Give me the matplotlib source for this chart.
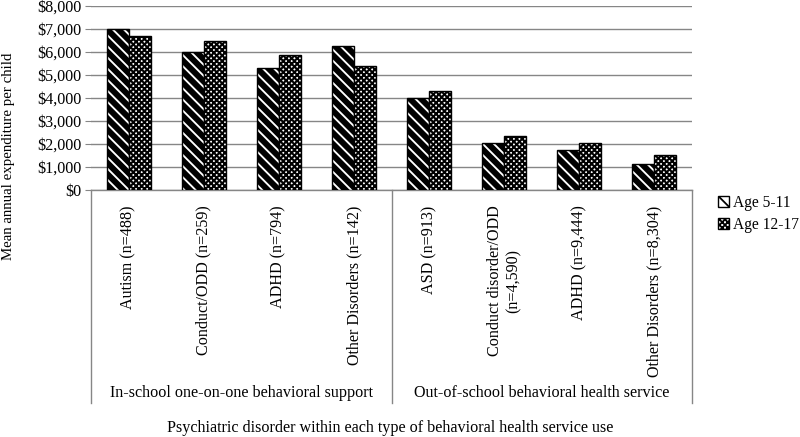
import matplotlib
matplotlib.use('Agg')
import matplotlib.pyplot as plt
import matplotlib.transforms as mtransforms
from matplotlib.patches import Patch
import numpy as np

plt.rcParams['font.family'] = ['Liberation Serif', 'DejaVu Serif']

# data
categories = ['Autism (n=488)', 'Conduct/ODD (n=259)', 'ADHD (n=794)', 'Other Disorders (n=142)',
              'ASD (n=913)', 'Conduct disorder/ODD\n(n=4,590)', 'ADHD (n=9,444)', 'Other Disorders (n=8,304)']
groups = ['In-school one-on-one behavioral support', 'Out-of-school behavioral health service']
age_5_11 = [7020, 6000, 5300, 6250, 3990, 2030, 1720, 1120]
age_12_17 = [6700, 6460, 5870, 5380, 4300, 2360, 2060, 1510]
yticks = [0, 1000, 2000, 3000, 4000, 5000, 6000, 7000, 8000]

FS = 11.6
STRIPE = '\\\\\\'
DOTS = 'xxxxxx'
STRIPE_LW = 4.3
DOTS_LW = 1.5

fig = plt.figure(figsize=(8, 4.37), dpi=100)
ax = fig.add_axes([91/800, 1 - 190/437, (692 - 91)/800, (190 - 6)/437])

x = np.arange(len(categories))
w = 0.293
grid_col = '#868686'


def set_hlw(patches, lw):
    for p in patches:
        if hasattr(p, 'set_hatch_linewidth'):
            p.set_hatch_linewidth(lw)


plt.rcParams['hatch.linewidth'] = STRIPE_LW
b1 = ax.bar(x - w/2, age_5_11, w, color='white', edgecolor='black', linewidth=1.0,
            hatch=STRIPE, zorder=3, label='Age 5-11')
set_hlw(b1, STRIPE_LW)
plt.rcParams['hatch.linewidth'] = DOTS_LW
b2 = ax.bar(x + w/2, age_12_17, w, color='white', edgecolor='black', linewidth=1.0,
            hatch=DOTS, zorder=3, label='Age 12-17')
set_hlw(b2, DOTS_LW)

ax.set_xlim(-0.5, len(categories) - 0.5)
ax.set_ylim(0, 8000)
ax.set_yticks(yticks)
ax.set_yticklabels(['${:,}'.format(v) for v in yticks], fontsize=FS)
ax.yaxis.grid(True, color=grid_col, linewidth=1.0, zorder=0)
ax.tick_params(axis='y', length=4, color=grid_col, pad=3)
ax.tick_params(axis='x', length=0, pad=11)
for s in ['top', 'right', 'left']:
    ax.spines[s].set_visible(False)
ax.spines['bottom'].set_color(grid_col)
ax.spines['bottom'].set_linewidth(1.0)

ax.set_xticks(x)
ax.set_xticklabels(categories, rotation=90, fontsize=FS, va='top', ha='center', multialignment='center')

# group separators and group labels
trans = mtransforms.blended_transform_factory(ax.transData, ax.transAxes)
for xv in [-0.5, 3.5, 7.5]:
    ax.plot([xv, xv], [0, -(403 - 190)/184], transform=trans, color=grid_col,
            linewidth=1.0, clip_on=False)
ax.text(1.5, -(393 - 190)/184, groups[0], transform=trans, ha='center', va='center', fontsize=FS)
ax.text(5.5, -(393 - 190)/184, groups[1], transform=trans, ha='center', va='center', fontsize=FS)

fig.text(390/800, 1 - 428/437, 'Psychiatric disorder within each type of behavioral health service use',
         ha='center', va='center', fontsize=FS)
fig.text(9/800, 1 - 156/437, 'Mean annual expenditure per child', rotation=90,
         ha='center', va='center', fontsize=10.7)

h1 = Patch(facecolor='white', edgecolor='black', hatch=STRIPE, label='Age 5-11')
h2 = Patch(facecolor='white', edgecolor='black', hatch=DOTS, label='Age 12-17')
leg = fig.legend(handles=[h1, h2], loc='center left', bbox_to_anchor=(718/800, 1 - 214/437),
                 frameon=False, fontsize=11.2, handlelength=0.7, handleheight=0.7,
                 handletextpad=0.25, labelspacing=0.35, borderpad=0, borderaxespad=0)
set_hlw(leg.get_patches(), 1.3)

fig.savefig('out.png', dpi=100)
